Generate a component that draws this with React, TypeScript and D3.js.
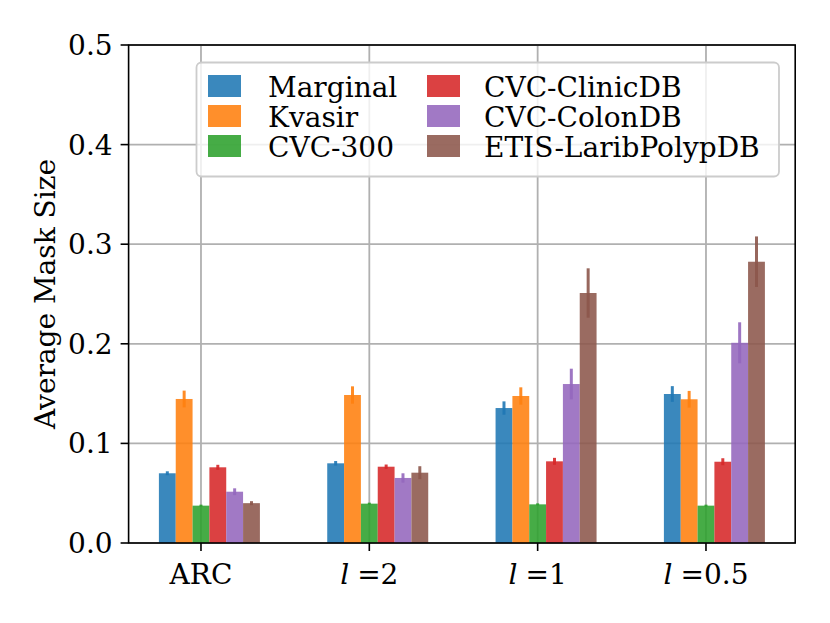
import React, { useRef, useEffect } from 'react';
import * as d3 from 'd3';

// categories on the x axis
const categories = ['ARC', 'l =2', 'l =1', 'l =0.5'];

const seriesNames = ['Marginal', 'Kvasir', 'CVC-300', 'CVC-ClinicDB', 'CVC-ColonDB', 'ETIS-LaribPolypDB'];
const seriesColors = ['#1f77b4', '#ff7f0e', '#2ca02c', '#d62728', '#9467bd', '#8c564b'];

// mean mask size per category
const marginal = [0.070, 0.080, 0.1355, 0.1496];
const kvasir = [0.1446, 0.1486, 0.1476, 0.1443];
const cvc300 = [0.0375, 0.0395, 0.0388, 0.0375];
const clinicDB = [0.076, 0.0766, 0.082, 0.0816];
const colonDB = [0.0515, 0.0653, 0.1596, 0.201];
const etis = [0.040, 0.0706, 0.251, 0.2824];

// error bar half lengths
const marginalErr = [0.002, 0.0023, 0.0067, 0.0079];
const kvasirErr = [0.0084, 0.0087, 0.0087, 0.0084];
const cvc300Err = [0.001, 0.001, 0.001, 0.001];
const clinicDBErr = [0.0025, 0.0022, 0.0035, 0.0035];
const colonDBErr = [0.0034, 0.0047, 0.0154, 0.0206];
const etisErr = [0.002, 0.0065, 0.0248, 0.0254];

const yTicks = [0, 0.1, 0.2, 0.3, 0.4, 0.5];

const FONT = '"DejaVu Serif", serif';
const FS = '28px';

const App = () => {
  const svgRef = useRef<SVGSVGElement | null>(null);

  useEffect(() => {
    const values = [marginal, kvasir, cvc300, clinicDB, colonDB, etis];
    const errors = [marginalErr, kvasirErr, cvc300Err, clinicDBErr, colonDBErr, etisErr];
    const barW = 0.1;

    const x = d3.scaleLinear().domain([-0.43, 3.53]).range([128.6, 795.2]);
    const y = d3.scaleLinear().domain([0, 0.5]).range([543, 45]);
    const [left, right] = x.range();
    const [bottom, top] = y.range();

    const svg = d3.select(svgRef.current);
    svg.selectAll('*').remove();

    // grid
    const grid = svg.append('g');
    grid.selectAll('.gy')
      .data(yTicks)
      .enter()
      .append('line')
      .attr('x1', left).attr('x2', right)
      .attr('y1', d => y(d)).attr('y2', d => y(d))
      .attr('stroke', '#b0b0b0').attr('stroke-width', 1.8);
    grid.selectAll('.gx')
      .data(categories)
      .enter()
      .append('line')
      .attr('x1', (d, i) => x(i)).attr('x2', (d, i) => x(i))
      .attr('y1', top).attr('y2', bottom)
      .attr('stroke', '#b0b0b0').attr('stroke-width', 1.8);

    // bars
    const bars = svg.append('g');
    values.forEach((vals, s) => {
      const off = (s - 2.5) * barW;
      bars.selectAll('.b' + s)
        .data(vals)
        .enter()
        .append('rect')
        .attr('x', (d, i) => x(i + off))
        .attr('width', (d, i) => x(i + off + barW) - x(i + off))
        .attr('y', d => y(d))
        .attr('height', d => bottom - y(d))
        .attr('fill', seriesColors[s])
        .attr('fill-opacity', 0.88);
    });

    // error bars
    values.forEach((vals, s) => {
      const off = (s - 2) * barW;
      bars.selectAll('.e' + s)
        .data(vals)
        .enter()
        .append('line')
        .attr('x1', (d, i) => x(i + off))
        .attr('x2', (d, i) => x(i + off))
        .attr('y1', (d, i) => y(d - errors[s][i]))
        .attr('y2', (d, i) => y(d + errors[s][i]))
        .attr('stroke', seriesColors[s])
        .attr('stroke-opacity', 0.9)
        .attr('stroke-width', 3);
    });

    // frame
    svg.append('rect')
      .attr('x', left).attr('y', top)
      .attr('width', right - left).attr('height', bottom - top)
      .attr('fill', 'none').attr('stroke', '#000').attr('stroke-width', 1.6);

    // y ticks
    const yAxis = svg.append('g');
    yAxis.selectAll('line')
      .data(yTicks)
      .enter()
      .append('line')
      .attr('x1', left - 8).attr('x2', left)
      .attr('y1', d => y(d)).attr('y2', d => y(d))
      .attr('stroke', '#000').attr('stroke-width', 1.6);
    yAxis.selectAll('text')
      .data(yTicks)
      .enter()
      .append('text')
      .attr('x', left - 16)
      .attr('y', d => y(d) + 10)
      .attr('text-anchor', 'end')
      .style('font-family', FONT)
      .style('font-size', FS)
      .text(d => d3.format('.1f')(d));

    // x ticks
    const xAxis = svg.append('g');
    xAxis.selectAll('line')
      .data(categories)
      .enter()
      .append('line')
      .attr('x1', (d, i) => x(i)).attr('x2', (d, i) => x(i))
      .attr('y1', bottom).attr('y2', bottom + 8)
      .attr('stroke', '#000').attr('stroke-width', 1.6);
    const xl = xAxis.selectAll('text')
      .data(categories)
      .enter()
      .append('text')
      .attr('x', (d, i) => x(i))
      .attr('y', 584)
      .attr('text-anchor', 'middle')
      .style('font-family', FONT)
      .style('font-size', FS);
    xl.each(function (d) {
      const t = d3.select(this);
      if (d.startsWith('l ')) {
        t.append('tspan').style('font-style', 'italic').text('l');
        t.append('tspan').attr('dx', 8).text(d.slice(2));
      } else {
        t.text(d);
      }
    });

    // y label
    svg.append('text')
      .attr('transform', `translate(55, ${(top + bottom) / 2}) rotate(-90)`)
      .attr('text-anchor', 'middle')
      .style('font-family', FONT)
      .style('font-size', FS)
      .text('Average Mask Size');

    // legend
    const legend = svg.append('g');
    legend.append('rect')
      .attr('x', 196.5).attr('y', 62.5)
      .attr('width', 582.5).attr('height', 114)
      .attr('rx', 5)
      .attr('fill', '#fff').attr('fill-opacity', 0.8)
      .attr('stroke', '#cccccc').attr('stroke-width', 1.8);
    const handleX = [208, 427];
    const textX = [268, 484];
    const items = legend.selectAll('.item')
      .data(seriesNames)
      .enter()
      .append('g')
      .attr('transform', (d, i) => `translate(${handleX[Math.floor(i / 3)]}, ${75 + (i % 3) * 30})`);
    items.append('rect')
      .attr('width', 33).attr('height', 22)
      .attr('fill', (d, i) => seriesColors[i])
      .attr('fill-opacity', 0.88);
    items.append('text')
      .attr('x', (d, i) => textX[Math.floor(i / 3)] - handleX[Math.floor(i / 3)])
      .attr('y', 22)
      .style('font-family', FONT)
      .style('font-size', FS)
      .text(d => d);

    return () => {
      d3.select(svgRef.current).selectAll('*').remove();
    };
  }, []);

  return (
    <div style={{ position: 'absolute', left: 0, top: 0 }}>
      <svg ref={svgRef} width={830} height={623} style={{ display: 'block', background: '#fff' }}></svg>
    </div>
  );
};

export default App;
